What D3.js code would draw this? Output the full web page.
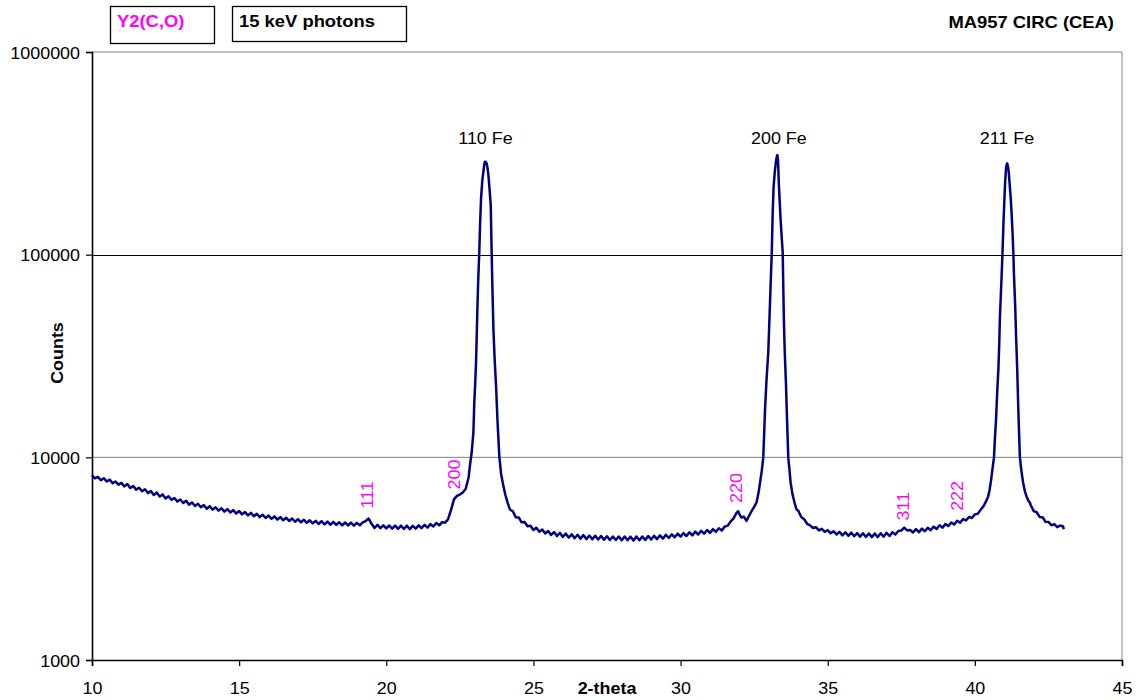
<!DOCTYPE html>
<html>
<head>
<meta charset="utf-8">
<script src="https://cdn.jsdelivr.net/npm/d3@7"></script>
<style>
  html, body { margin: 0; padding: 0; background: #fff; }
  svg text { font-family: "Liberation Sans", Arial, sans-serif; }
</style>
</head>
<body>
<svg id="chart" width="1137" height="700"></svg>
<script>
// Diffraction scan: 2-theta (degrees) and counts
const bgLowTheta = [10.0,10.1,10.2,10.3,10.4,10.5,10.6,10.7,10.8,10.9,11.0,11.1,11.2,11.3,11.4,11.5,11.6,11.7,11.8,11.9,
  12.0,12.1,12.2,12.3,12.4,12.5,12.6,12.7,12.8,12.9,13.0,13.1,13.2,13.3,13.4,13.5,13.6,13.7,13.8,13.9,
  14.0,14.1,14.2,14.3,14.4,14.5,14.6,14.7,14.8,14.9,15.0,15.1,15.2,15.3,15.4,15.5,15.6,15.7,15.8,15.9,
  16.0,16.1,16.2,16.3,16.4,16.5,16.6,16.7,16.8,16.9,17.0,17.1,17.2,17.3,17.4,17.5,17.6,17.7,17.8,17.9,
  18.0,18.1,18.2,18.3,18.4,18.5,18.6,18.7,18.8,18.9,19.0,19.1,19.2,19.3,19.4,19.5,19.6,19.7,19.8,19.9,
  20.0,20.1,20.2,20.3,20.4,20.5,20.6,20.7,20.8,20.9,21.0,21.1,21.2,21.3,21.4,21.5,21.6,21.7,21.8,21.9,
  22.0,22.1,22.2,22.3,22.4,22.5,22.6,22.7];
const bgLowCounts = [8150,7880,8010,7720,7890,7600,7760,7450,7600,7330,7480,7190,7380,7050,7220,6930,7080,6800,6960,6660,
  6820,6520,6700,6400,6560,6270,6430,6170,6300,6050,6190,5950,6100,5840,5990,5750,5900,5670,5810,5580,
  5740,5520,5670,5460,5610,5400,5550,5340,5490,5280,5430,5230,5370,5170,5320,5120,5270,5070,5210,5020,
  5160,4970,5110,4930,5070,4890,5030,4850,4990,4810,4950,4780,4920,4750,4890,4720,4860,4690,4840,4670,
  4820,4650,4800,4640,4780,4620,4770,4610,4760,4600,4750,4620,4780,4850,4990,4700,4480,4640,4470,4620,
  4460,4610,4450,4600,4440,4600,4430,4600,4420,4590,4450,4620,4470,4640,4500,4680,4560,4740,4620,4790,
  4760,4950,5500,6200,6450,6550,6700,7000];

const peak110Theta = [22.80,22.85,22.90,22.93,22.96,22.99,23.02,23.05,23.07,23.09,23.12,23.16,23.19,23.22,23.26,23.30,23.33,23.35,
  23.38,23.41,23.44,23.47,23.51,23.55,23.58,23.61,23.64,23.68,23.73,23.78,23.84,23.90,23.98,24.05,24.12,24.20];
const peak110Counts = [8000,9300,10500,11800,13300,18600,23000,29400,38000,50000,72000,103000,145000,189000,230000,257000,280000,287000,
  287000,282000,268000,247000,210000,175000,103000,65000,43000,31000,22500,15000,10150,8300,7210,6500,6000,5530];

const bgMidTheta = [24.3,24.4,24.5,24.6,24.7,24.8,24.9,25.0,25.1,25.2,25.3,25.4,25.5,25.6,25.7,25.8,25.9,26.0,26.1,26.2,
  26.3,26.4,26.5,26.6,26.7,26.8,26.9,27.0,27.1,27.2,27.3,27.4,27.5,27.6,27.7,27.8,27.9,28.0,28.1,28.2,
  28.3,28.4,28.5,28.6,28.7,28.8,28.9,29.0,29.1,29.2,29.3,29.4,29.5,29.6,29.7,29.8,29.9,30.0,30.1,30.2,
  30.3,30.4,30.5,30.6,30.7,30.8,30.9,31.0,31.1,31.2,31.3,31.4,31.5,31.6,31.7,31.8,31.9,31.96,32.0,32.07,
  32.15,32.24,32.33,32.41,32.5,32.58,32.65,32.70,32.76];
const bgMidCounts = [5420,5060,5050,4780,4800,4570,4600,4380,4490,4290,4400,4210,4330,4140,4280,4090,4240,4050,4200,4020,
  4170,3990,4150,3970,4130,3950,4110,3940,4100,3930,4090,3920,4080,3910,4070,3910,4070,3900,4070,3900,
  4060,3890,4070,3900,4070,3910,4090,3930,4100,3950,4120,3970,4150,4000,4170,4030,4200,4060,4230,4090,
  4270,4120,4300,4160,4340,4200,4380,4240,4420,4290,4470,4360,4550,4600,4820,5000,5320,5420,5230,5050,
  5100,4860,5150,5420,5700,5970,6700,7500,8600];

const peak200Theta = [32.81,32.84,32.87,32.92,32.98,33.01,33.04,33.07,33.10,33.13,33.16,33.20,33.24,33.27,33.29,33.31,
  33.34,33.37,33.41,33.44,33.47,33.49,33.51,33.54,33.58,33.62,33.66,33.70,33.74,33.80,33.87,33.94];
const peak200Counts = [10000,13000,17300,24000,33000,44000,58300,78000,103000,160000,215000,255000,287000,305000,310000,295000,
  224000,180000,140000,120000,103000,70000,48200,33000,23400,15000,10000,8700,7500,6600,6000,5530];

const bgHighTheta = [34.0,34.1,34.2,34.3,34.4,34.5,34.6,34.7,34.8,34.9,35.0,35.1,35.2,35.3,35.4,35.5,35.6,35.7,35.8,35.9,
  36.0,36.1,36.2,36.3,36.4,36.5,36.6,36.7,36.8,36.9,37.0,37.1,37.2,37.3,37.4,37.5,37.6,37.7,37.8,37.9,
  38.0,38.1,38.2,38.3,38.4,38.5,38.6,38.7,38.8,38.9,39.0,39.1,39.2,39.3,39.4,39.5,39.6,39.7,39.8,39.9,
  40.0,40.1,40.2,40.3,40.4,40.45,40.50,40.55,40.60];
const bgHighCounts = [5450,5080,4950,4700,4620,4480,4520,4360,4440,4290,4370,4220,4320,4160,4290,4120,4270,4100,4250,4080,
  4230,4060,4220,4050,4210,4040,4210,4040,4220,4060,4240,4090,4270,4160,4330,4350,4500,4360,4380,4260,
  4420,4270,4450,4320,4490,4370,4550,4430,4620,4500,4690,4580,4770,4660,4860,4760,4960,4880,5080,5020,
  5230,5270,5520,5750,6150,6400,6900,7700,8800];

const peak211Theta = [40.65,40.68,40.72,40.76,40.80,40.83,40.85,40.88,40.91,40.94,40.97,41.00,41.03,41.06,41.08,41.10,
  41.13,41.15,41.18,41.22,41.25,41.28,41.31,41.33,41.37,41.40,41.44,41.47,41.50,41.53,41.58,41.64,41.70,41.76,41.82,41.87,
  41.9,42.0,42.1,42.2,42.3,42.4,42.5,42.6,42.7,42.8,42.9,43.0,43.02];
const peak211Counts = [10000,12300,15400,21000,27300,37000,48200,62000,79000,103000,140000,182000,230000,267000,278000,282000,
  270000,257000,225000,189000,158000,129000,100000,79000,56000,39800,27000,18650,13500,10000,8600,7500,6800,6400,6100,5970,
  5800,5430,5360,5080,5060,4810,4800,4620,4680,4520,4610,4560,4420];

const xTicks = [10, 15, 20, 25, 30, 35, 40, 45];
const yTicks = [1000, 10000, 100000, 1000000];

// Fe reflections (label, 2-theta of the peak)
const feLabels = ["110 Fe", "200 Fe", "211 Fe"];
const fePeaks = [23.37, 33.34, 41.09];
// Y2(C,O) reflections (label, 2-theta)
const yLabels = ["111", "200", "220", "311", "222"];
const yPeaks = [19.35, 22.3, 31.9, 37.55, 39.4];

const segThetas = [bgLowTheta, peak110Theta, bgMidTheta, peak200Theta, bgHighTheta, peak211Theta];
const segCounts = [bgLowCounts, peak110Counts, bgMidCounts, peak200Counts, bgHighCounts, peak211Counts];

const scan = [];
segThetas.forEach((ts, i) => ts.forEach((t, j) => scan.push({ t, c: segCounts[i][j] })));

const W = 1137, H = 700;
const M = { left: 92, right: 1122, top: 52, bottom: 660 };
const SX = 1.12; // horizontal text stretch
const SXB = 1.15; // stretch for the bold header text

const svg = d3.select("#chart");
svg.append("rect").attr("width", W).attr("height", H).attr("fill", "#fff");

const x = d3.scaleLinear().domain([10, 45]).range([M.left, M.right]);
const y = d3.scaleLog().domain([1000, 1000000]).range([M.bottom, M.top]);

function stretched(sel, px, py, rot, s) {
  return sel.attr("transform", `translate(${px},${py})` + (rot ? ` rotate(${rot})` : "") + ` scale(${s || SX},1)`);
}

// frame lines (top and right)
svg.append("line").attr("x1", M.left).attr("x2", M.right).attr("y1", y(1000000)).attr("y2", y(1000000))
  .attr("stroke", "#808080").attr("stroke-width", 1);
svg.append("line").attr("x1", M.right).attr("x2", M.right).attr("y1", M.top).attr("y2", M.bottom)
  .attr("stroke", "#808080").attr("stroke-width", 1);

// horizontal gridlines
svg.append("line").attr("x1", M.left).attr("x2", M.right).attr("y1", y(10000)).attr("y2", y(10000))
  .attr("stroke", "#808080").attr("stroke-width", 1);
svg.append("line").attr("x1", M.left).attr("x2", M.right).attr("y1", Math.round(y(100000)) + 0.5).attr("y2", Math.round(y(100000)) + 0.5)
  .attr("stroke", "#000").attr("stroke-width", 1);

// axes
const yAxis = d3.axisLeft(y).tickValues(yTicks).tickFormat(d3.format("d")).tickSize(6).tickPadding(6);
const gy = svg.append("g").attr("transform", `translate(${M.left},0)`).call(yAxis);
gy.select(".domain").attr("stroke", "#000").attr("stroke-width", 1.6);
gy.selectAll(".tick line").attr("stroke", "#000").attr("stroke-width", 1.2);
gy.selectAll(".tick text").attr("font-size", 16).attr("fill", "#000")
  .attr("font-family", "Liberation Sans, Arial, sans-serif")
  .attr("x", null).attr("dy", null)
  .each(function () { stretched(d3.select(this), -12, 6); });

const xAxis = d3.axisBottom(x).tickValues(xTicks).tickFormat(d3.format("d")).tickSize(6).tickPadding(8);
const gx = svg.append("g").attr("transform", `translate(0,${M.bottom})`).call(xAxis);
gx.select(".domain").attr("stroke", "#000").attr("stroke-width", 1.6);
gx.selectAll(".tick line").attr("stroke", "#000").attr("stroke-width", 1.2);
gx.selectAll(".tick text").attr("font-size", 16).attr("fill", "#000")
  .attr("font-family", "Liberation Sans, Arial, sans-serif")
  .attr("y", null).attr("dy", null)
  .each(function () { stretched(d3.select(this), 0, 34); });

// scan line
const line = d3.line().x(d => x(d.t)).y(d => y(d.c));
svg.append("path").datum(scan).attr("d", line)
  .attr("fill", "none").attr("stroke", "#000080").attr("stroke-width", 2.5).attr("stroke-linejoin", "round");

// Fe peak labels
feLabels.forEach((lab, i) => {
  stretched(svg.append("text").text(lab), x(fePeaks[i]), 144)
    .attr("text-anchor", "middle").attr("font-size", 16).attr("fill", "#000");
});

// Y2(C,O) reflection labels (vertical, magenta)
yLabels.forEach((lab, i) => {
  const xi = x(yPeaks[i]);
  const c = scan.reduce((a, b) => Math.abs(b.t - yPeaks[i]) < Math.abs(a.t - yPeaks[i]) ? b : a).c;
  svg.append("text").text(lab)
    .attr("transform", `translate(${xi + 6},${y(c) - 10}) rotate(-90) scale(${SX},1)`)
    .attr("text-anchor", "start").attr("font-size", 16).attr("fill", "#ff00ff");
});

// axis titles
stretched(svg.append("text").text("Counts"), 63, 353, -90)
  .attr("text-anchor", "middle").attr("font-size", 16).attr("font-weight", "bold");
stretched(svg.append("text").text("2-theta"), 607, 694)
  .attr("text-anchor", "middle").attr("font-size", 16).attr("font-weight", "bold");

// header boxes
svg.append("rect").attr("x", 110.5).attr("y", 6.5).attr("width", 104).attr("height", 37)
  .attr("fill", "#fff").attr("stroke", "#000").attr("stroke-width", 1.3);
stretched(svg.append("text").text("Y2(C,O)"), 117, 27, 0, SXB)
  .attr("font-size", 16).attr("font-weight", "bold").attr("fill", "#ff00ff");
svg.append("rect").attr("x", 232.5).attr("y", 6.5).attr("width", 174).attr("height", 35)
  .attr("fill", "#fff").attr("stroke", "#000").attr("stroke-width", 1.3);
stretched(svg.append("text").text("15 keV photons"), 239, 27, 0, SXB)
  .attr("font-size", 16).attr("font-weight", "bold").attr("fill", "#000");
stretched(svg.append("text").text("MA957 CIRC (CEA)"), 1114, 28, 0, SXB)
  .attr("text-anchor", "end").attr("font-size", 16).attr("font-weight", "bold").attr("fill", "#000");
</script>
</body>
</html>
